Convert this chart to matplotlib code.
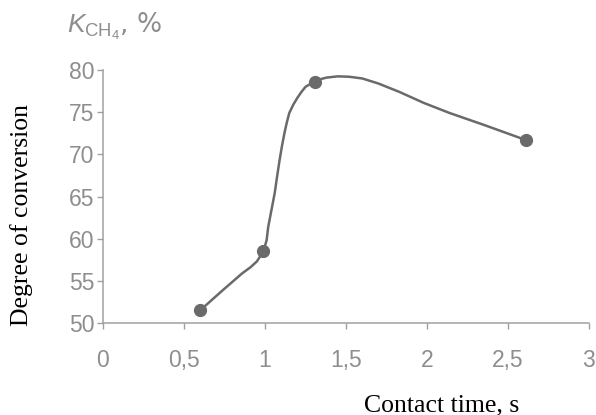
import matplotlib.pyplot as plt

# measured points
contact_time = [0.6, 0.99, 1.31, 2.61]
conversion = [51.5, 58.5, 78.6, 71.7]

# hand-drawn curve
curve_x = [0.6, 0.67, 0.74, 0.8, 0.86, 0.91, 0.95, 0.99, 1.01, 1.02, 1.04, 1.06, 1.075, 1.09,
           1.105, 1.12, 1.135, 1.15, 1.175, 1.2, 1.225, 1.25, 1.28, 1.31, 1.34, 1.38, 1.45,
           1.52, 1.6, 1.7, 1.83, 1.98, 2.14, 2.35, 2.48, 2.61]
curve_y = [51.5, 52.7, 53.9, 54.9, 55.9, 56.6, 57.3, 58.5, 59.8, 61.4, 63.4, 65.4, 67.4, 69.3,
           71.0, 72.5, 73.8, 74.9, 75.9, 76.7, 77.4, 78.0, 78.35, 78.6, 78.9, 79.1, 79.25,
           79.2, 79.0, 78.4, 77.4, 76.1, 74.9, 73.5, 72.6, 71.7]

x_ticks = [0, 0.5, 1, 1.5, 2, 2.5, 3]
x_labels = ["0", "0,5", "1", "1,5", "2", "2,5", "3"]
y_ticks = [50, 55, 60, 65, 70, 75, 80]

plt.rcParams['mathtext.fontset'] = 'custom'
plt.rcParams['mathtext.rm'] = 'Liberation Sans'
plt.rcParams['mathtext.it'] = 'Liberation Sans:italic'

grey = '#8e8e8e'
fig = plt.figure(figsize=(5.96, 4.15), dpi=100)
ax = fig.add_axes([0.1728, 0.2217, 0.8154, 0.6096])

ax.plot(curve_x, curve_y, color='#6a6a6a', lw=1.8, solid_capstyle='round',
        solid_joinstyle='round')
ax.plot(contact_time, conversion, 'o', color='#6a6a6a', ms=8.5)

ax.set_xlim(0, 3)
ax.set_ylim(50, 80)
ax.set_xticks(x_ticks)
ax.set_xticklabels(x_labels)
ax.set_yticks(y_ticks)

for s in ['top', 'right']:
    ax.spines[s].set_visible(False)
for s in ['left', 'bottom']:
    ax.spines[s].set_color('#a0a0a0')
    ax.spines[s].set_linewidth(1.1)

ax.tick_params(axis='both', colors='#a0a0a0', labelcolor=grey, labelsize=16.5, length=4, width=1)
ax.tick_params(axis='x', pad=15)
ax.tick_params(axis='y', pad=2)
for lab in ax.get_xticklabels() + ax.get_yticklabels():
    lab.set_family('Liberation Sans')

fig.text(67 / 596, 1 - 33 / 415, r'$K_{\mathrm{CH}_4}$, %', color=grey, fontsize=19,
         ha='left', va='baseline')
fig.text(22 / 596, 1 - 215 / 415, 'Degree of conversion', family='Liberation Serif',
         fontsize=18.5, rotation=90, ha='center', va='center')
fig.text(442 / 596, 1 - 411 / 415, 'Contact time, s', family='Liberation Serif',
         fontsize=18.5, ha='center', va='baseline')

fig.savefig('out.png', dpi=100)
